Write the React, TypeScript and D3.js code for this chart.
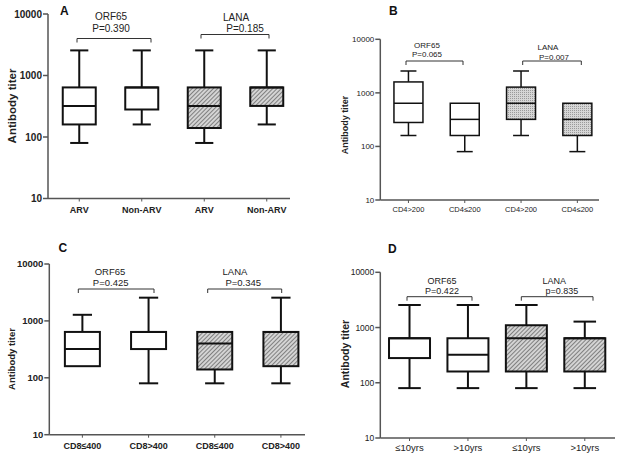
import React from 'react'
import * as d3 from 'd3'

// titer axis ticks
const titerTicks = [10, 100, 1000, 10000]
const groupNames = ['ORF65', 'LANA']

// panel A: ARV status
const categoriesA = ['ARV', 'Non-ARV', 'ARV', 'Non-ARV']
const statsA = [
  [80, 160, 320, 640, 2560],
  [160, 280, 640, 640, 2560],
  [80, 140, 320, 640, 2560],
  [160, 320, 640, 640, 2560],
]
const pValuesA = ['P=0.390', 'P=0.185']

// panel B: CD4 count
const categoriesB = ['CD4>200', 'CD4≤200', 'CD4>200', 'CD4≤200']
const statsB = [
  [160, 280, 640, 1600, 2560],
  [80, 160, 320, 640, 640],
  [160, 320, 640, 1280, 2560],
  [80, 160, 320, 640, 640],
]
const pValuesB = ['P=0.065', 'P=0.007']

// panel C: CD8 count
const categoriesC = ['CD8≤400', 'CD8>400', 'CD8≤400', 'CD8>400']
const statsC = [
  [160, 160, 320, 640, 1280],
  [80, 320, 640, 640, 2560],
  [80, 140, 400, 640, 640],
  [80, 160, 640, 640, 2560],
]
const pValuesC = ['P=0.425', 'P=0.345']

// panel D: years of infection
const categoriesD = ['≤10yrs', '>10yrs', '≤10yrs', '>10yrs']
const statsD = [
  [80, 280, 640, 640, 2560],
  [80, 160, 320, 640, 2560],
  [80, 160, 640, 1100, 2560],
  [80, 160, 640, 640, 1280],
]
const pValuesD = ['P=0.422', 'p=0.835']

const FONT = 'Liberation Sans, Arial, sans-serif'

const panels = [
  {
    label: 'A', cats: categoriesA, stats: statsA, pv: pValuesA, fill: 'url(#hatch)',
    x0: 48, x1: 298, axisEnd: 290, yb: 198.5, yt: 14, boxW: 33, sw: 2,
    tickSize: 10, tickWeight: 'bold', catSize: 9, catWeight: 'bold', catY: 213,
    titleX: 16, titleY: 106, titleSize: 11.5, titleWeight: 'bold', labelX: 60, labelY: 15,
    annot: [
      { bx: [77, 151], by: 38.5, nx: 111, ny: 20, px: 111, py: 31.5, size: 10 },
      { bx: [201, 269], by: 34.5, nx: 236, ny: 20.5, px: 245, py: 32, size: 10 },
    ],
  },
  {
    label: 'B', cats: categoriesB, stats: statsB, pv: pValuesB, fill: 'url(#dots)',
    x0: 380.3, x1: 605.5, axisEnd: 599, yb: 200, yt: 39.3, boxW: 29, sw: 1.5,
    tickSize: 8, tickWeight: 'normal', catSize: 7.5, catWeight: 'normal', catY: 212,
    titleX: 347.5, titleY: 125, titleSize: 9, titleWeight: 'bold', labelX: 389, labelY: 15,
    annot: [
      { bx: [406, 463], by: 61, nx: 427, ny: 47.5, px: 427, py: 57, size: 8 },
      { bx: [522.7, 581.3], by: 61, nx: 548, ny: 50, px: 554, py: 60, size: 8 },
    ],
  },
  {
    label: 'C', cats: categoriesC, stats: statsC, pv: pValuesC, fill: 'url(#hatch)',
    x0: 49.3, x1: 314, axisEnd: 305, yb: 434.7, yt: 264, boxW: 35, sw: 2,
    tickSize: 9.5, tickWeight: 'bold', catSize: 9, catWeight: 'bold', catY: 449,
    titleX: 15, titleY: 359, titleSize: 9.5, titleWeight: 'bold', labelX: 58.5, labelY: 251.5,
    annot: [
      { bx: [78.3, 154], by: 289, nx: 110, ny: 275, px: 110.7, py: 285.5, size: 9.5 },
      { bx: [207.7, 281.7], by: 289, nx: 235, ny: 275, px: 243.3, py: 285.5, size: 9.5 },
    ],
  },
  {
    label: 'D', cats: categoriesD, stats: statsD, pv: pValuesD, fill: 'url(#hatch)',
    x0: 380.3, x1: 614, axisEnd: 615, yb: 438, yt: 272.3, boxW: 41, sw: 2,
    tickSize: 8.5, tickWeight: 'normal', catSize: 9.5, catWeight: 'normal', catY: 451,
    titleX: 348.5, titleY: 354, titleSize: 10.5, titleWeight: 'bold', labelX: 388, labelY: 252.5,
    annot: [
      { bx: [407, 472], by: 296.7, nx: 442, ny: 284, px: 442, py: 293.5, size: 9 },
      { bx: [521.3, 593], by: 296.7, nx: 554.3, ny: 284, px: 562, py: 293.5, size: 9 },
    ],
  },
]

const Panel = ({ p }: { p: any }) => {
  const y = d3.scaleLog().domain([10, 10000]).range([p.yb, p.yt])
  const x = d3.scaleBand<number>().domain(d3.range(p.cats.length)).range([p.x0, p.x1])
  const cx = (i: number) => (x(i) as number) + x.bandwidth() / 2
  const capW = p.boxW * 0.55
  const axisColor = '#555'

  return (
    <g fontFamily={FONT}>
      {/* boxes */}
      {p.stats.map((s: number[], i: number) => {
        const [mn, q1, md, q3, mx] = s
        const c = cx(i)
        const fill = i >= 2 ? p.fill : '#fff'
        return (
          <g key={i} stroke="#111" strokeWidth={p.sw}>
            {mx > q3 && <line x1={c} x2={c} y1={y(q3)} y2={y(mx)} />}
            {mx > q3 && <line x1={c - capW / 2} x2={c + capW / 2} y1={y(mx)} y2={y(mx)} />}
            {mn < q1 && <line x1={c} x2={c} y1={y(q1)} y2={y(mn)} />}
            {mn < q1 && <line x1={c - capW / 2} x2={c + capW / 2} y1={y(mn)} y2={y(mn)} />}
            <rect x={c - p.boxW / 2} y={y(q3)} width={p.boxW} height={y(q1) - y(q3)} fill={fill} />
            <line x1={c - p.boxW / 2} x2={c + p.boxW / 2} y1={y(md)} y2={y(md)} />
          </g>
        )
      })}

      {/* y axis */}
      <line x1={p.x0} x2={p.x0} y1={y(10)} y2={y(10000)} stroke={axisColor} strokeWidth={1.5} />
      {titerTicks.map(t => (
        <g key={t}>
          <line x1={p.x0 - 5} x2={p.x0} y1={y(t)} y2={y(t)} stroke={axisColor} strokeWidth={1.5} />
          <text x={p.x0 - 6} y={y(t)} dy="0.35em" textAnchor="end" fontSize={p.tickSize}
            fontWeight={p.tickWeight} fill="#222">{t}</text>
        </g>
      ))}

      {/* x axis */}
      <line x1={p.x0} x2={p.axisEnd} y1={p.yb} y2={p.yb} stroke={axisColor} strokeWidth={1.5} />
      {p.cats.map((c: string, i: number) => (
        <g key={i}>
          <line x1={cx(i)} x2={cx(i)} y1={p.yb} y2={p.yb + 3} stroke={axisColor} strokeWidth={1} />
          <text x={cx(i)} y={p.catY} textAnchor="middle" fontSize={p.catSize}
            fontWeight={p.catWeight} fill="#222">{c}</text>
        </g>
      ))}

      <text transform={`translate(${p.titleX},${p.titleY}) rotate(-90)`} textAnchor="middle"
        fontSize={p.titleSize} fontWeight={p.titleWeight} fill="#222">Antibody titer</text>

      <text x={p.labelX} y={p.labelY} fontSize={12} fontWeight="bold" fill="#111">{p.label}</text>

      {/* comparison brackets */}
      {p.annot.map((a: any, k: number) => (
        <g key={k}>
          <path d={`M${a.bx[0]},${a.by + 4}V${a.by}H${a.bx[1]}V${a.by + 4}`} fill="none"
            stroke="#333" strokeWidth={1} />
          <text x={a.nx} y={a.ny} textAnchor="middle" fontSize={a.size} fill="#222">{groupNames[k]}</text>
          <text x={a.px} y={a.py} textAnchor="middle" fontSize={a.size} fill="#222">{p.pv[k]}</text>
        </g>
      ))}
    </g>
  )
}

export default function App() {
  return (
    <svg width={624} height={459} style={{ position: 'absolute', left: 0, top: 0, background: '#fff' }}>
      <defs>
        <pattern id="hatch" width={3} height={3} patternUnits="userSpaceOnUse" patternTransform="rotate(45)">
          <rect width={3} height={3} fill="#d4d4d4" />
          <line x1={0.5} y1={0} x2={0.5} y2={3} stroke="#808080" strokeWidth={1} />
        </pattern>
        <pattern id="dots" width={2} height={2} patternUnits="userSpaceOnUse">
          <rect width={2} height={2} fill="#d6d6d6" />
          <rect width={1} height={1} fill="#9a9a9a" />
        </pattern>
      </defs>
      <rect width={624} height={459} fill="#fff" />
      {panels.map(p => <Panel key={p.label} p={p} />)}
    </svg>
  )
}
